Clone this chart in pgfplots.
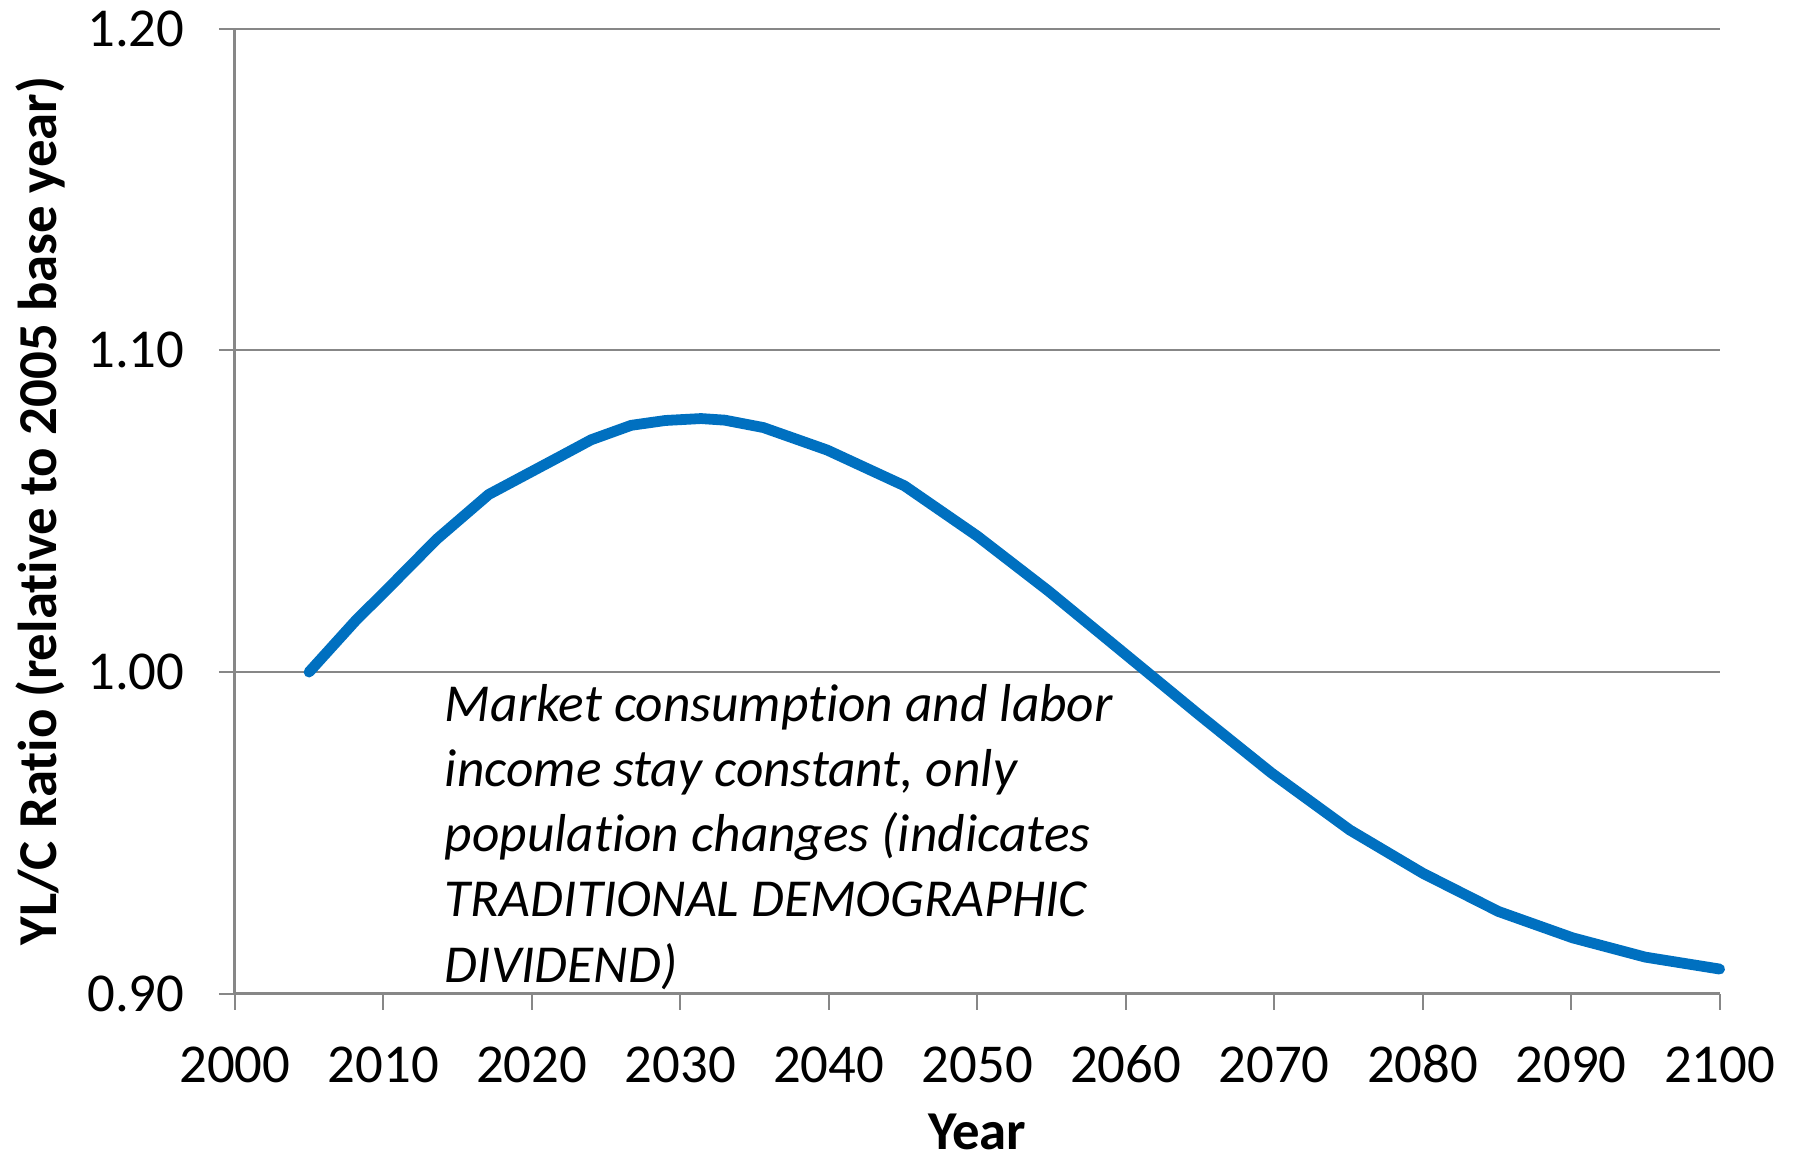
\documentclass[border=0pt]{standalone}
\usepackage{pgfplots}
\pgfplotsset{compat=1.18}
\usepackage{fontspec}
\setmainfont[Ligatures={NoCommon}]{Carlito}
\definecolor{xlblue}{HTML}{0070C0}
\definecolor{gridgray}{HTML}{878787}
\begin{document}
\begin{tikzpicture}
\path[use as bounding box] (-58.7pt,-41.1pt) rectangle (390.05pt,248.45pt);
\begin{axis}[
  scale only axis,
  width=371.2pt, height=241.3pt,
  xmin=2000, xmax=2100, ymin=0.9, ymax=1.2,
  xtick={2000,2010,...,2100},
  ytick={0.9,1.0,1.1,1.2},
  axis x line*=bottom, axis y line*=left,
  axis line style={gridgray, line width=0.8pt, -},
  tick align=outside,
  major tick length=4pt,
  tick style={gridgray, line width=0.5pt},
  ymajorgrids,
  major grid style={gridgray, line width=0.5pt},
  font=\fontsize{13.7}{16.4}\selectfont,
  /pgf/number format/assume math mode=true,
  x tick label style={/pgf/number format/set thousands separator={}, inner sep=0pt, anchor=north, text height=9pt, text depth=0pt},
  y tick label style={/pgf/number format/fixed, /pgf/number format/fixed zerofill, /pgf/number format/precision=2, inner sep=0pt, anchor=east},
  xticklabel shift=8.9pt,
  yticklabel shift=8.4pt,
  xlabel={\bfseries Year},
  ylabel={\bfseries YL/C Ratio (relative to 2005 base year)},
  xlabel style={at={(axis description cs:0.5,-0.1435)}, anchor=center, inner sep=0pt},
  ylabel style={at={(axis description cs:-0.1312,0.5)}, anchor=center, inner sep=0pt},
  clip=false,
]
\addplot[xlblue, line width=2.7pt, line join=round, line cap=round] coordinates {
(2005,1.000) (2008.2,1.0163) (2010,1.0245) (2013.6,1.0413) (2017.1,1.0552)
(2021.9,1.0670) (2024,1.0722) (2026.7,1.0767) (2029,1.0782) (2031.4,1.0788) (2033,1.0783) (2035.6,1.0760) (2039.9,1.0690)
(2045.1,1.0579) (2050,1.0423) (2054.8,1.0252) (2060.1,1.0051) (2065,0.9865)
(2069.8,0.9687) (2075.1,0.9509) (2080,0.9375) (2085.1,0.9256) (2090.1,0.9174)
(2095,0.9114) (2100,0.9077)
};
\node[anchor=north west, align=left, inner sep=0pt, font=\fontsize{13.35}{16.3}\selectfont\itshape] at (axis cs:2014.1,0.9965)
{Market consumption and labor\\income stay constant, only\\population changes (indicates\\TRADITIONAL DEMOGRAPHIC\\DIVIDEND)};
\end{axis}
\end{tikzpicture}
\end{document}
